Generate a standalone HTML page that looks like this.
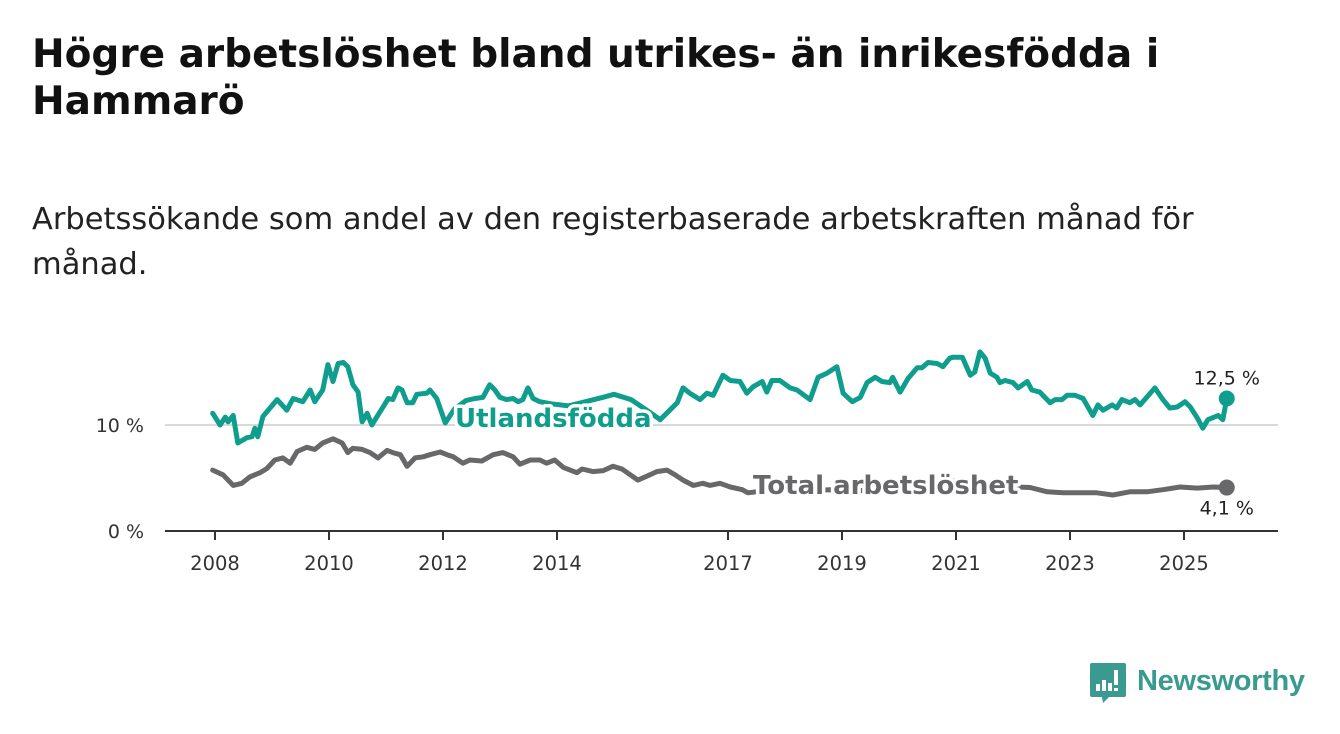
<!DOCTYPE html>
<html><head><meta charset="utf-8">
<style>
body{margin:0;width:1340px;height:734px;background:#fff;font-family:"DejaVu Sans",sans-serif;overflow:hidden;position:relative}
h1{position:absolute;left:32px;top:31px;margin:0;font-size:39px;line-height:47px;font-weight:bold;color:#111;width:1300px;white-space:nowrap}
.sub{position:absolute;left:32px;top:197px;margin:0;font-size:30.5px;line-height:45px;color:#222;width:1300px;white-space:nowrap}
svg{position:absolute;left:0;top:0}
</style></head><body>
<h1>Högre arbetslöshet bland utrikes- än inrikesfödda i<br>Hammarö</h1>
<p class="sub">Arbetssökande som andel av den registerbaserade arbetskraften månad för<br>månad.</p>
<svg id="chart" width="1340" height="734"></svg>
<script>
const foreignDates=[2007.96,2008.09,2008.18,2008.23,2008.32,2008.40,2008.56,2008.65,2008.70,2008.75,2008.84,2009.09,2009.26,2009.37,2009.54,2009.67,2009.75,2009.89,2009.98,2010.07,2010.16,2010.25,2010.33,2010.42,2010.51,2010.58,2010.67,2010.75,2010.89,2011.04,2011.12,2011.21,2011.28,2011.37,2011.47,2011.54,2011.72,2011.77,2011.89,2011.98,2012.04,2012.2,2012.4,2012.56,2012.70,2012.82,2012.91,2013.00,2013.12,2013.23,2013.32,2013.40,2013.49,2013.58,2013.70,2013.9,2014.2,2014.5,2014.8,2015.0,2015.3,2015.6,2015.81,2016.11,2016.21,2016.33,2016.51,2016.63,2016.74,2016.91,2017.04,2017.21,2017.33,2017.44,2017.60,2017.68,2017.77,2017.91,2018.09,2018.21,2018.44,2018.58,2018.74,2018.91,2019.02,2019.18,2019.32,2019.44,2019.58,2019.70,2019.84,2019.89,2020.02,2020.16,2020.32,2020.40,2020.51,2020.67,2020.77,2020.89,2020.95,2021.11,2021.25,2021.33,2021.42,2021.51,2021.60,2021.72,2021.77,2021.86,2022.00,2022.09,2022.25,2022.33,2022.47,2022.65,2022.74,2022.86,2022.95,2023.09,2023.23,2023.40,2023.49,2023.58,2023.74,2023.82,2023.91,2024.05,2024.14,2024.23,2024.49,2024.63,2024.75,2024.88,2025.02,2025.11,2025.23,2025.33,2025.42,2025.51,2025.60,2025.68,2025.75];
const foreignValues=[11.1,10.0,10.75,10.3,10.9,8.3,8.8,8.9,9.7,8.9,10.8,12.4,11.4,12.5,12.2,13.3,12.2,13.3,15.7,14.1,15.8,15.9,15.5,13.8,13.1,10.3,11.1,10.0,11.2,12.5,12.4,13.5,13.3,12.1,12.1,12.9,13.0,13.3,12.5,11.1,10.2,11.5,12.3,12.5,12.6,13.8,13.3,12.6,12.4,12.5,12.2,12.4,13.5,12.5,12.2,12.0,11.8,12.2,12.6,12.9,12.4,11.3,10.5,12.1,13.5,13.0,12.4,13.0,12.8,14.7,14.2,14.1,13.0,13.6,14.1,13.1,14.2,14.2,13.5,13.3,12.4,14.5,14.9,15.5,13.0,12.2,12.6,14.0,14.5,14.1,14.0,14.5,13.1,14.4,15.4,15.4,15.9,15.8,15.5,16.3,16.4,16.4,14.7,15.0,16.9,16.3,14.9,14.5,14.0,14.2,14.0,13.5,14.1,13.3,13.1,12.1,12.4,12.4,12.8,12.8,12.5,10.9,11.9,11.4,11.9,11.6,12.4,12.1,12.4,11.9,13.5,12.4,11.6,11.7,12.2,11.7,10.7,9.7,10.5,10.7,10.9,10.5,12.5];
const totalDates=[2007.96,2008.14,2008.32,2008.47,2008.61,2008.79,2008.91,2009.05,2009.19,2009.32,2009.44,2009.61,2009.75,2009.89,2010.07,2010.23,2010.33,2010.42,2010.58,2010.72,2010.86,2011.02,2011.12,2011.25,2011.37,2011.51,2011.65,2011.77,2011.95,2012.07,2012.18,2012.35,2012.47,2012.68,2012.88,2013.05,2013.23,2013.35,2013.53,2013.70,2013.82,2013.96,2014.11,2014.35,2014.44,2014.63,2014.81,2014.98,2015.14,2015.42,2015.63,2015.75,2015.93,2016.07,2016.21,2016.39,2016.56,2016.68,2016.86,2017.04,2017.25,2017.35,2017.8,2018.3,2018.8,2019.3,2019.8,2020.3,2020.8,2021.3,2021.8,2022.30,2022.60,2022.88,2023.18,2023.47,2023.75,2024.05,2024.35,2024.63,2024.93,2025.23,2025.51,2025.75];
const totalValues=[5.75,5.3,4.3,4.5,5.1,5.5,5.9,6.7,6.9,6.4,7.5,7.9,7.7,8.3,8.7,8.3,7.4,7.8,7.7,7.4,6.9,7.6,7.4,7.2,6.1,6.9,7.0,7.2,7.45,7.2,7.0,6.4,6.7,6.6,7.2,7.4,7.0,6.3,6.7,6.7,6.4,6.7,6.0,5.5,5.85,5.6,5.7,6.1,5.85,4.8,5.3,5.6,5.75,5.3,4.8,4.3,4.5,4.3,4.5,4.15,3.9,3.6,3.9,3.8,3.9,3.8,4.0,4.6,4.8,4.5,4.2,4.1,3.7,3.6,3.6,3.6,3.4,3.7,3.7,3.9,4.15,4.05,4.15,4.1];
const xTicks=[2008,2010,2012,2014,2017,2019,2021,2023,2025];
const yTicks=[0,10];
const yTickLabels=["0 %","10 %"];

const NS="http://www.w3.org/2000/svg";
const svg=document.getElementById('chart');
const X=t=>215+(t-2008)*57;
const Y=v=>531-v*10.6;
const TEAL="#0f9e8e",GRAY="#68686b";
const FONT='DejaVu Sans, sans-serif';
function mk(tag,attrs,parent){const e=document.createElementNS(NS,tag);for(const k in attrs)e.setAttribute(k,attrs[k]);(parent||svg).appendChild(e);return e;}

yTicks.forEach((v,i)=>{
  if(v>0){const g=mk('line',{x1:165,x2:1278,y1:Y(v),y2:Y(v),stroke:'#d9d9d9','stroke-width':2});
  
  }
  const t=mk('text',{x:144,y:Y(v)+7,'text-anchor':'end','font-size':19,fill:'#333','font-family':FONT});
  t.textContent=yTickLabels[i];
  
  
});
const ax=mk('line',{x1:165,x2:1278,y1:531,y2:531,stroke:'#333','stroke-width':2});


xTicks.forEach(yr=>{
  const tk=mk('line',{x1:X(yr),x2:X(yr),y1:531,y2:540,stroke:'#333','stroke-width':2});
  
  
  const t=mk('text',{x:X(yr),y:570,'text-anchor':'middle','font-size':19.5,fill:'#333','font-family':FONT});
  t.textContent=yr;
  
  
});
function line(dates,vals,color,name){
  const d=dates.map((t,i)=>(i?'L':'M')+X(t).toFixed(1)+' '+Y(vals[i]).toFixed(1)).join(' ');
  const p=mk('path',{d:d,fill:'none',stroke:color,'stroke-width':5,'stroke-linejoin':'round','stroke-linecap':'round'});
  
  
  const n=dates.length-1;
  const c=mk('circle',{cx:X(dates[n]),cy:Y(vals[n]),r:8,fill:color});
  
  
}
line(totalDates,totalValues,GRAY,'total-line');
line(foreignDates,foreignValues,TEAL,'foreign-born-line');
function lab(x,y,txt,color,name){
  const t=mk('text',{x:x,y:y,'font-size':26,'font-weight':'bold',fill:color,stroke:'#fff','stroke-width':7,'paint-order':'stroke','stroke-linejoin':'round','font-family':FONT});
  t.textContent=txt;
  
  
}
lab(455,427,'Utlandsfödda',TEAL,'foreign-born-label');
lab(753,494,'Total arbetslöshet',GRAY,'total-label');
const nf=foreignValues.length-1, nt=totalValues.length-1;
const e1=mk('text',{x:X(foreignDates[nf]),y:Y(foreignValues[nf])-14,'text-anchor':'middle','font-size':19,fill:'#222','font-family':FONT});
e1.textContent=foreignValues[nf].toFixed(1).replace('.',',')+' %';


const e2=mk('text',{x:X(totalDates[nt]),y:Y(totalValues[nt])+27,'text-anchor':'middle','font-size':19,fill:'#222','font-family':FONT});
e2.textContent=totalValues[nt].toFixed(1).replace('.',',')+' %';


</script>
<svg width="1340" height="734" style="position:absolute;left:0;top:0;pointer-events:none">
  <path d="M1092 663 h32 a2 2 0 0 1 2 2 v30 a2 2 0 0 1 -2 2 h-15 l-6 6 l-1 -6 h-10 a2 2 0 0 1 -2 -2 v-30 a2 2 0 0 1 2 -2z" fill="#3a9a90"/>
  <rect x="1096" y="684" width="4" height="7" fill="#fff"/><rect x="1102" y="680" width="4" height="11" fill="#fff"/><rect x="1108" y="683" width="4" height="8" fill="#fff"/><rect x="1114" y="670" width="4" height="15" fill="#fff"/><rect x="1114" y="688" width="4" height="3" fill="#fff"/>
  <text x="1137" y="690" font-size="29" font-weight="bold" fill="#3a9a90" font-family="Liberation Sans, sans-serif" textLength="168">Newsworthy</text>
</svg>
</body></html>
